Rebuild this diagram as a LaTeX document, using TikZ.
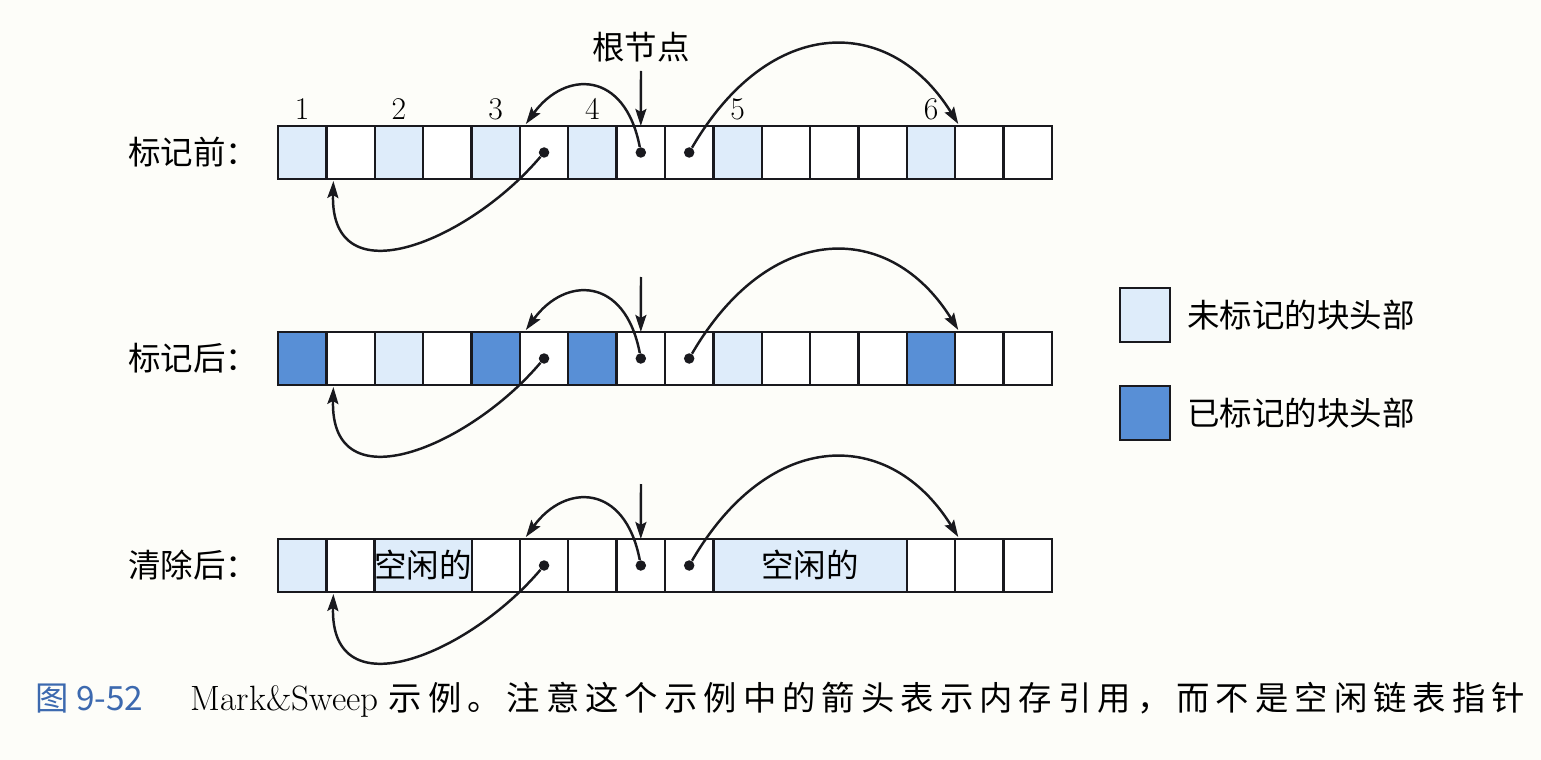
\documentclass[tikz,border=0pt]{standalone}
\usepackage{fontspec}
\newfontfamily\hei{Noto Sans CJK SC}
\newfontfamily\capfont[LetterSpace=18]{Noto Sans CJK SC}
\usetikzlibrary{positioning}
\usetikzlibrary{arrows.meta}
\definecolor{ink}{RGB}{25,25,30}
\definecolor{unmark}{RGB}{222,236,250}
\definecolor{mark}{RGB}{88,143,214}
\definecolor{paper}{RGB}{253,253,249}
\definecolor{capblue}{RGB}{60,105,175}

\tikzset{
  cell/.style={draw=ink, line width=1.3pt, minimum width=0.9675cm,
               minimum height=1.06cm, inner sep=0pt, outer sep=0pt},
  blk/.style={cell, fill=white},
  hdrU/.style={cell, fill=unmark},
  hdrM/.style={cell, fill=mark},
  dot/.style={circle, fill=ink, inner sep=0pt, minimum size=0.21cm},
  ref/.style={draw=ink, line width=1.4pt,
              -{Stealth[length=0.34cm,width=0.22cm,inset=0.06cm]}},
  cjk/.style={font=\hei\fontsize{18.5}{21}\selectfont, inner sep=0pt},
  num/.style={font=\fontsize{18}{20}\selectfont, inner sep=0pt},
}

\begin{document}
\begin{tikzpicture}[x=0.02cm, y=-0.02cm]

\fill[paper] (0,0) rectangle (1541,760);
\useasboundingbox (0,0) rectangle (1541,760);

%---------------------------------------
% Heap rows (16 words each)
%---------------------------------------
% before marking
\foreach \s [count=\i from 0] in {hdrU,blk,hdrU,blk,hdrU,blk,hdrU,blk,
                                  blk,hdrU,blk,blk,blk,hdrU,blk,blk}
  \node[\s] (r1c\i) at ({278+48.375*(\i+0.5)},152.5) {};

% after marking
\foreach \s [count=\i from 0] in {hdrM,blk,hdrU,blk,hdrM,blk,hdrM,blk,
                                  blk,hdrU,blk,blk,blk,hdrM,blk,blk}
  \node[\s] (r2c\i) at ({278+48.375*(\i+0.5)},358.5) {};

% after sweeping
\foreach \s [count=\i from 0] in {hdrU,blk,blk,blk,blk,blk,blk,blk,
                                  blk,blk,blk,blk,blk,blk,blk,blk}
  \node[\s] (r3c\i) at ({278+48.375*(\i+0.5)},565.5) {};
\node[hdrU, cjk, minimum width=1.935cm] (r3f1) at (423.125,565.5) {空闲的};
\node[hdrU, cjk, minimum width=3.87cm] (r3f2) at (810.125,565.5) {空闲的};

% Row labels
\node[cjk, anchor=west] (lbl1) at (128,152.5) {标记前：};
\node[cjk, anchor=west] (lbl2) at (128,358.5) {标记后：};
\node[cjk, anchor=west] (lbl3) at (128,565.5) {清除后：};

% Block numbers
\foreach \c [count=\n] in {0,2,4,6,9,13}
  \node[num, above=0.12cm of r1c\c] (num\n) {\n};

%---------------------------------------
% Pointers (same in every row)
%---------------------------------------
\foreach \k/\T in {1/126, 2/332, 3/539} {
  \foreach \c in {5,7,8}
    \node[dot] (r\k d\c) at (r\k c\c) {};
  \coordinate (r\k top) at (641,\T-55);
  \draw[ref] (r\k top) -- (r\k c7.north);
  \draw[ref] (r\k d8) .. controls (770,\T-112) and (890,\T-112)
    .. ([xshift=0.06cm,yshift=0.04cm]r\k c14.north west);
  \draw[ref] (r\k d7) .. controls (625,\T-56) and (565,\T-56)
    .. ([xshift=0.12cm,yshift=0.04cm]r\k c5.north west);
  \draw[ref] (r\k d5) .. controls (470,\T+114) and (330,\T+174)
    .. ([xshift=0.14cm,yshift=-0.04cm]r\k c1.south west);
}
\node[cjk, above=0.18cm of r1top] (root) {根节点};

%---------------------------------------
% Legend
%---------------------------------------
\node[hdrU, minimum width=1cm, minimum height=1.08cm] (keyU) at (1145,315) {};
\node[cjk, right=0.34cm of keyU] (txtU) {未标记的块头部};
\node[hdrM, minimum width=1cm, minimum height=1.08cm] (keyM) at (1145,413) {};
\node[cjk, right=0.34cm of keyM] (txtM) {已标记的块头部};

% Caption
\node[anchor=west, inner sep=0pt] (cap) at (35,700)
  {{\hei\fontsize{19}{22}\selectfont\color{capblue}图 9-52}\hspace{0.95cm}%
   {\fontsize{20}{22}\selectfont Mark\&Sweep}\hspace{0.2cm}%
   {\capfont\fontsize{19}{22}\selectfont 示例。注意这个示例中的箭头表示内存引用，而不是空闲链表指针}};

\end{tikzpicture}
\end{document}
